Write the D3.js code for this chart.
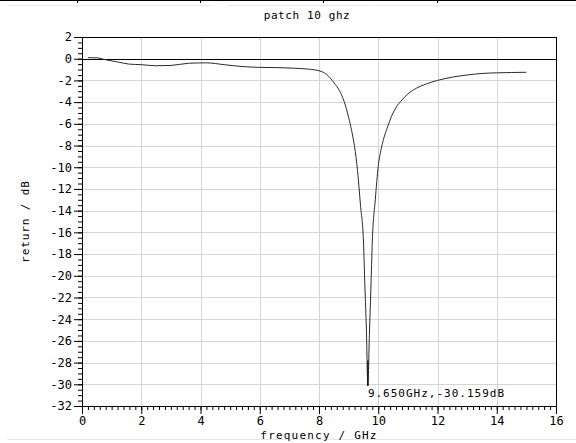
<!DOCTYPE html>
<html>
<head>
<meta charset="utf-8">
<script src="https://cdn.jsdelivr.net/npm/d3@7"></script>
<style>
  body { margin: 0; background: #fff; }
  text { font-family: "DejaVu Sans Mono", "Liberation Mono", monospace; fill: #000; }
</style>
</head>
<body>
<div id="chart"></div>
<script>
// return loss of the patch
var freq = [0.2, 0.5, 0.8, 1.2, 1.6, 2.0, 2.5, 3.0, 3.6, 4.2, 4.8, 5.4, 6.0, 6.6, 7.2, 7.6, 7.9, 8.1, 8.3, 8.5,
            8.7, 8.85, 9.0, 9.1, 9.2, 9.3, 9.4, 9.5, 9.55, 9.6, 9.65, 9.7, 9.75, 9.8, 9.9, 10.0, 10.1, 10.2, 10.3,
            10.45, 10.6, 10.8, 11.0, 11.3, 11.6, 12.0, 12.5, 13.0, 13.5, 14.0, 14.5, 15.0];
var ret = [0.1, 0.08, -0.1, -0.3, -0.5, -0.55, -0.65, -0.62, -0.42, -0.38, -0.55, -0.72, -0.8, -0.82, -0.88, -0.95, -1.05, -1.2, -1.55, -2.2,
           -3.0, -3.95, -5.4, -6.6, -8.1, -10.3, -13.5, -16.8, -21.0, -25.0, -30.159, -25.5, -21.3, -16.8, -13.0, -9.9, -8.3, -7.2, -6.4,
           -5.3, -4.5, -3.8, -3.25, -2.7, -2.35, -2.0, -1.7, -1.5, -1.36, -1.3, -1.27, -1.25];

var xTicks = [0, 2, 4, 6, 8, 10, 12, 14, 16];
var yTicks = [2, 0, -2, -4, -6, -8, -10, -12, -14, -16, -18, -20, -22, -24, -26, -28, -30, -32];
var markerFreq = 9.65;
var markerVal = -30.159;

var W = 576, H = 443;
var data = freq.map(function(f, i) { return {f: f, r: ret[i]}; });

var svg = d3.select("#chart").append("svg")
    .attr("width", W)
    .attr("height", H);

var x = d3.scaleLinear().domain([0, 16]).range([82, 556]);
var y = d3.scaleLinear().domain([-32, 2]).range([406, 37]);

// bits of the page the screenshot was cut from
svg.append("line").attr("x1", 0).attr("x2", W).attr("y1", 0.5).attr("y2", 0.5)
   .attr("stroke", "#000");
[77, 200, 323, 437].forEach(function(p) {
  svg.append("line").attr("x1", p + 0.5).attr("x2", p + 0.5).attr("y1", 0).attr("y2", 3)
     .attr("stroke", "#000");
});
[[7, 211], [228, 370], [372, 576]].forEach(function(s) {
  svg.append("line").attr("x1", s[0]).attr("x2", s[1]).attr("y1", 5.5).attr("y2", 5.5)
     .attr("stroke", "#e6e9ef");
});
svg.append("line").attr("x1", 7).attr("x2", W).attr("y1", 439.5).attr("y2", 439.5)
   .attr("stroke", "#e6e6e6");

// grid
svg.append("g").selectAll("line")
    .data(xTicks.slice(1, -1))
  .enter().append("line")
    .attr("x1", function(d) { return Math.round(x(d)) + 0.5; })
    .attr("x2", function(d) { return Math.round(x(d)) + 0.5; })
    .attr("y1", y(2)).attr("y2", y(-32))
    .attr("stroke", "#d4d4d4");
svg.append("g").selectAll("line")
    .data(yTicks.slice(1, -1))
  .enter().append("line")
    .attr("x1", x(0)).attr("x2", x(16))
    .attr("y1", function(d) { return Math.round(y(d)) + 0.5; })
    .attr("y2", function(d) { return Math.round(y(d)) + 0.5; })
    .attr("stroke", "#d4d4d4");

// frame
svg.append("rect")
    .attr("x", x(0) + 0.5).attr("y", y(2) + 0.5)
    .attr("width", x(16) - x(0)).attr("height", y(-32) - y(2))
    .attr("fill", "none").attr("stroke", "#000");

// 0 dB reference
svg.append("line")
    .attr("x1", x(0)).attr("x2", x(16))
    .attr("y1", Math.round(y(0)) + 0.5).attr("y2", Math.round(y(0)) + 0.5)
    .attr("stroke", "#000");

// axes
var minorX = d3.range(0, 16.01, 0.2).map(function(v) { return +v.toFixed(1); });
var minorY = d3.range(-32, 2.01, 0.5);
var fmt = function(d) { return String(d); };   // plain hyphen minus like the original

svg.append("g")
    .attr("transform", "translate(0," + y(-32) + ")")
    .call(d3.axisBottom(x).tickValues(minorX).tickSize(4).tickFormat(""))
    .call(function(g) { g.select(".domain").remove(); });
var xAxis = svg.append("g")
    .attr("transform", "translate(0," + y(-32) + ")")
    .call(d3.axisBottom(x).tickValues(xTicks).tickSize(8).tickPadding(2).tickFormat(fmt));
xAxis.select(".domain").remove();

svg.append("g")
    .attr("transform", "translate(" + x(0) + ",0)")
    .call(d3.axisLeft(y).tickValues(minorY).tickSize(4).tickFormat(""))
    .call(function(g) { g.select(".domain").remove(); });
var yAxis = svg.append("g")
    .attr("transform", "translate(" + x(0) + ",0)")
    .call(d3.axisLeft(y).tickValues(yTicks).tickSize(8).tickPadding(2).tickFormat(fmt));
yAxis.select(".domain").remove();

svg.selectAll(".tick line").attr("stroke", "#000");
svg.selectAll(".tick text")
    .style("font-family", "'DejaVu Sans Mono', monospace")
    .style("font-size", "12px");

// curve
var line = d3.line()
    .x(function(d) { return x(d.f); })
    .y(function(d) { return y(d.r); })
    .curve(d3.curveMonotoneX);

svg.append("path")
    .datum(data)
    .attr("d", line)
    .attr("fill", "none")
    .attr("stroke", "#2a2a2a")
    .attr("stroke-width", 1);

// marker
svg.append("line")
    .attr("x1", x(markerFreq)).attr("x2", x(markerFreq))
    .attr("y1", y(-27.8)).attr("y2", y(markerVal))
    .attr("stroke", "#000");
svg.append("text")
    .attr("x", x(markerFreq))
    .attr("y", y(markerVal) + 11)
    .text(markerFreq.toFixed(3) + "GHz," + markerVal.toFixed(3) + "dB")
    .style("font-size", "11px")
    .style("letter-spacing", "1px");

// titles
svg.append("text")
    .attr("x", 307).attr("y", 19)
    .attr("text-anchor", "middle")
    .text("patch 10 ghz")
    .style("font-size", "11px")
    .style("letter-spacing", "0.6px");

svg.append("text")
    .attr("x", 319).attr("y", 439)
    .attr("text-anchor", "middle")
    .text("frequency / GHz")
    .style("font-size", "11px")
    .style("letter-spacing", "1.2px");

svg.append("text")
    .attr("transform", "translate(29," + (y(-15)) + ") rotate(-90)")
    .attr("text-anchor", "middle")
    .text("return / dB")
    .style("font-size", "11px")
    .style("letter-spacing", "0.9px");
</script>
</body>
</html>
